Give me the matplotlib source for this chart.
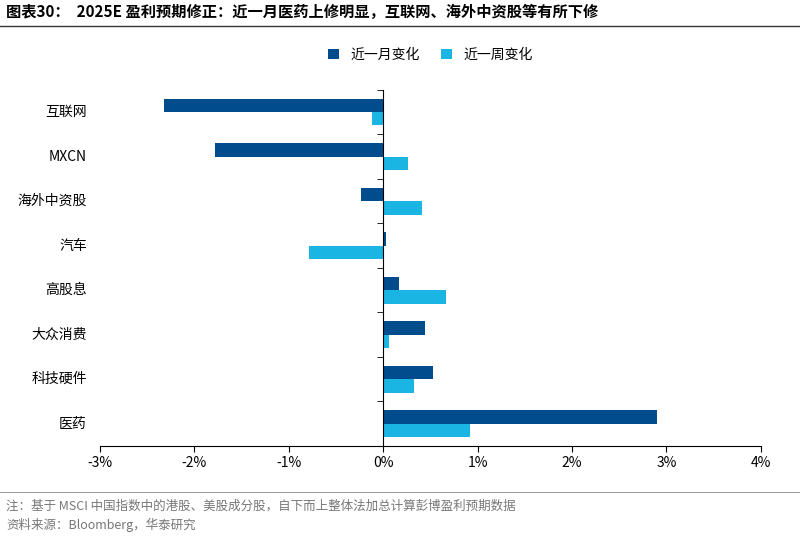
import matplotlib
matplotlib.use("Agg")
import matplotlib.pyplot as plt
import matplotlib.transforms as mtransforms
import numpy as np

plt.rcParams['font.family'] = ['Noto Sans CJK SC', 'DejaVu Sans']

categories = ['互联网', 'MXCN', '海外中资股', '汽车', '高股息', '大众消费', '科技硬件', '医药']
month_change = [-2.32, -1.78, -0.23, 0.03, 0.17, 0.44, 0.53, 2.90]
week_change = [-0.12, 0.26, 0.41, -0.79, 0.67, 0.06, 0.33, 0.92]
xticks = [-3, -2, -1, 0, 1, 2, 3, 4]

c_month = '#004C8C'
c_week = '#1BB5E3'

fig = plt.figure(figsize=(8, 5.38), dpi=100)
ax = fig.add_axes([0.125, 0.171, 0.826, 0.662])

n = len(categories)
y = np.arange(n)[::-1].astype(float)
h = 0.3
ax.barh(y + h/2, month_change, height=h, color=c_month, label='近一月变化')
ax.barh(y - h/2, week_change, height=h, color=c_week, label='近一周变化')

ax.set_xlim(-3, 4)
ax.set_ylim(-0.5, n - 0.5)
ax.set_xticks(xticks)
ax.set_xticklabels([f'{v}%' for v in xticks], fontsize=10)
ax.spines['top'].set_visible(False)
ax.spines['right'].set_visible(False)
ax.spines['left'].set_position(('data', 0))
ax.spines['left'].set_color('black')
ax.spines['bottom'].set_color('black')
ax.set_yticks([])
ax.set_yticks(np.arange(n + 1) - 0.5, minor=True)
ax.tick_params(axis='y', which='minor', length=4, direction='out', labelleft=False)
ax.tick_params(axis='x', length=4)

trans = mtransforms.blended_transform_factory(ax.transAxes, ax.transData)
for yi, lab in zip(y, categories):
    ax.text(-0.02, yi, lab, transform=trans, ha='right', va='center', fontsize=10)

ax.legend(loc='center', bbox_to_anchor=(0.5, 1.098), ncol=2, frameon=False,
          fontsize=10, handlelength=0.8, handleheight=0.8, columnspacing=1.5)

fig.text(0.008, 0.977, '图表30：  2025E 盈利预期修正：近一月医药上修明显，互联网、海外中资股等有所下修',
         fontsize=11, fontweight='bold', va='center')
fig.add_artist(plt.Line2D([0, 1], [0.952, 0.952], color='#333333', lw=1, transform=fig.transFigure))
fig.add_artist(plt.Line2D([0, 1], [0.085, 0.085], color='#888888', lw=0.6, transform=fig.transFigure))
fig.text(0.008, 0.06, '注：基于 MSCI 中国指数中的港股、美股成分股，自下而上整体法加总计算彭博盈利预期数据',
         fontsize=9, color='#777777', va='center')
fig.text(0.008, 0.025, '资料来源：Bloomberg，华泰研究', fontsize=9, color='#777777', va='center')

fig.savefig('out.png', dpi=100)
